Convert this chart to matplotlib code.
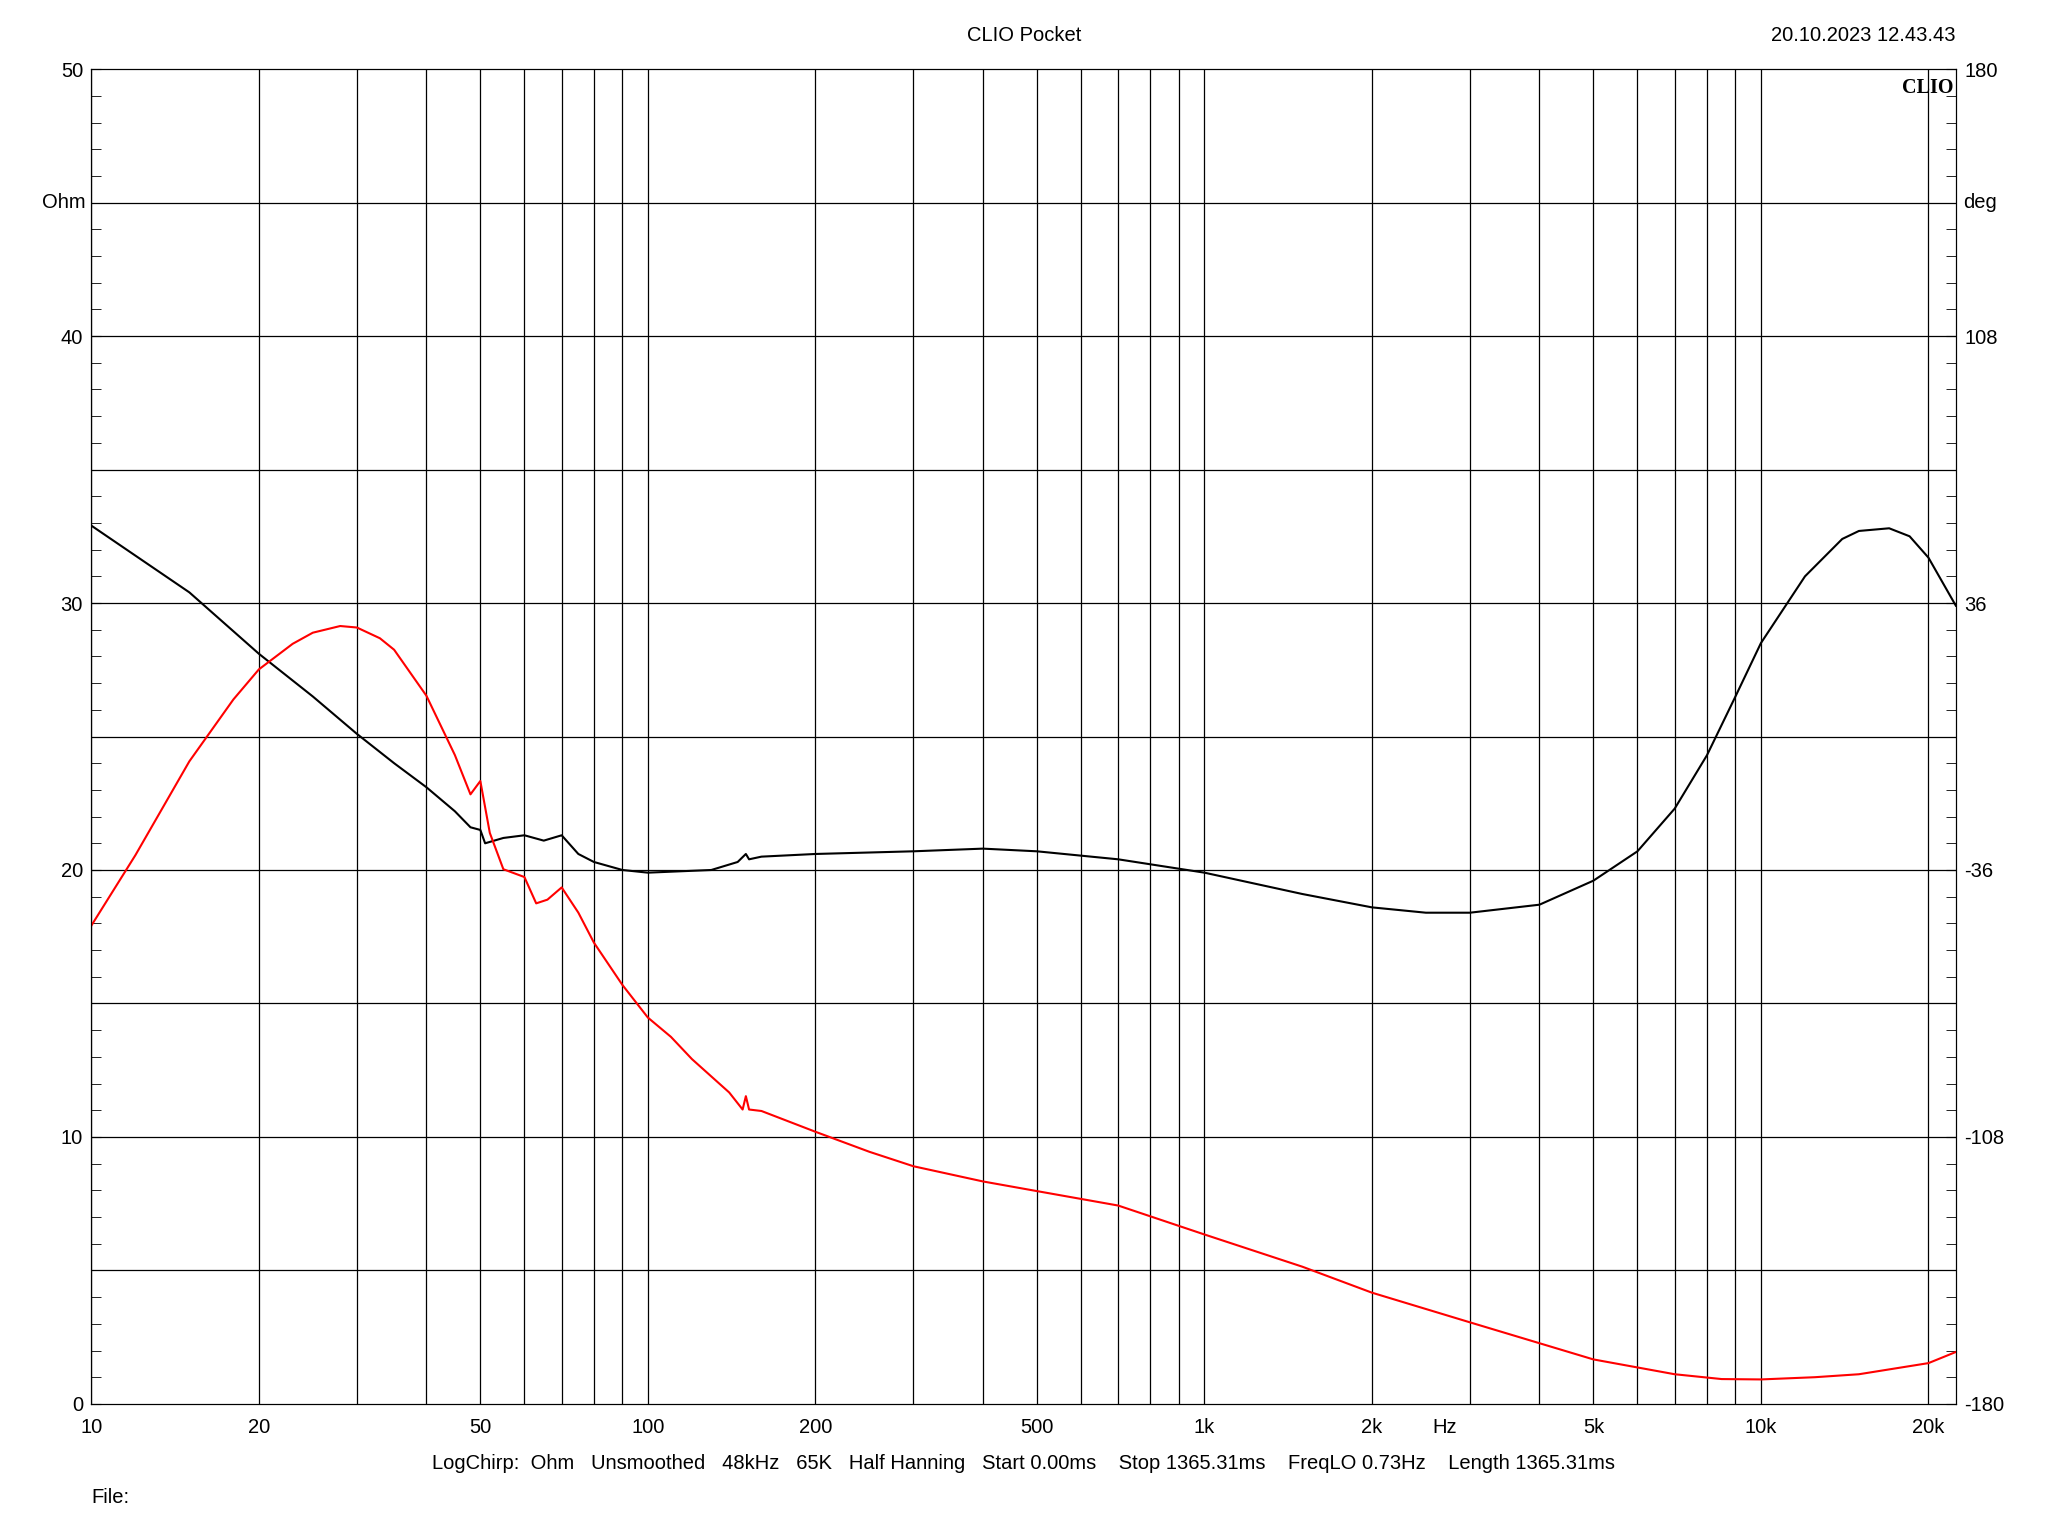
import matplotlib
matplotlib.use("Agg")
import matplotlib.pyplot as plt
import numpy as np
plt.rcParams['font.family'] = ['Liberation Sans', 'DejaVu Sans']

freq_ohm = [10,15,20,25,30,35,40,45,48,50,51,55,60,65,70,75,80,90,100,130,145,150,152,160,200,300,400,500,700,1000,1500,2000,2500,3000,4000,5000,6000,7000,8000,9000,10000,12000,14000,15000,17000,18500,20000,22400]
ohm = [32.9,30.4,28.1,26.5,25.1,24.0,23.1,22.2,21.6,21.5,21.0,21.2,21.3,21.1,21.3,20.6,20.3,20.0,19.9,20.0,20.3,20.6,20.4,20.5,20.6,20.7,20.8,20.7,20.4,19.9,19.1,18.6,18.4,18.4,18.7,19.6,20.7,22.3,24.3,26.5,28.5,31.0,32.4,32.7,32.8,32.5,31.7,29.9]
freq_ph = [10,12,15,18,20,23,25,28,30,33,35,40,45,48,50,52,55,60,63,66,70,75,80,90,100,110,120,140,148,150,152,160,200,250,300,400,500,700,1000,1500,2000,3000,5000,7000,8500,10000,12500,15000,20000,22400]
phase = [-51,-32,-6.7,10,18.1,25,28,29.8,29.4,26.5,23.4,11,-5,-15.6,-12,-26,-35.8,-37.9,-45,-44,-40.7,-47.5,-55.6,-67,-75.8,-81,-87,-96,-100.6,-97,-100.6,-101,-106.6,-112,-115.9,-120,-122.6,-126.5,-134.3,-143,-150,-158,-168,-172,-173.3,-173.4,-172.8,-172,-169,-166]

FS = 14.5
fig = plt.figure(figsize=(20.48,15.36), dpi=100)
ax = fig.add_axes([0.0446,0.086,0.9104,0.869])
ax.set_xscale('log')
ax.set_xlim(10,22400)
ax.set_ylim(0,50)
xt=[10,20,50,100,200,500,1000,2000,2700,5000,10000,20000]
xl=['10','20','50','100','200','500','1k','2k','Hz','5k','10k','20k']
ax.set_xticks(xt); ax.set_xticklabels(xl, fontsize=FS)
ax.set_xticks([], minor=True)
for d in [10,100,1000,10000]:
    for m in range(1,10):
        f=d*m
        if f<=22400: ax.axvline(f,color='black',lw=0.9)
for y in range(5,50,5):
    ax.axhline(y,color='black',lw=0.9)
ax.set_yticks([0,10,20,30,40,50]); ax.set_yticklabels(['0','10','20','30','40','50'],fontsize=FS)
ax.set_yticks(range(0,51), minor=True)
ax.tick_params(axis='y',which='both',length=7,direction='in',pad=6)
ax.tick_params(axis='x',length=0,pad=10)
ax.text(-0.015,0.9,'Ohm',transform=ax.transAxes,ha='center',va='center',fontsize=FS)
ax.plot(freq_ohm,ohm,color='black',lw=1.5)
ax2=ax.twinx()
ax2.set_ylim(-180,180)
ax2.set_yticks([-180,-108,-36,36,108,180]); ax2.set_yticklabels(['-180','-108','-36','36','108','180'],fontsize=FS)
ax2.set_yticks(np.arange(-180,181,7.2),minor=True)
ax2.tick_params(axis='y',which='both',length=7,direction='in',pad=6)
ax2.text(1.004,0.9,'deg',transform=ax.transAxes,ha='left',va='center',fontsize=FS)
ax2.plot(freq_ph,phase,color='red',lw=1.5)
ax.text(0.999,0.993,'CLIO',transform=ax.transAxes,ha='right',va='top',fontsize=FS,fontweight='bold',family='Liberation Serif')
fig.text(0.5,0.977,'CLIO Pocket',ha='center',va='center',fontsize=FS)
fig.text(0.955,0.977,'20.10.2023 12.43.43',ha='right',va='center',fontsize=FS)
fig.text(0.5,0.047,'LogChirp:  Ohm   Unsmoothed   48kHz   65K   Half Hanning   Start 0.00ms    Stop 1365.31ms    FreqLO 0.73Hz    Length 1365.31ms',ha='center',va='center',fontsize=FS)
fig.text(0.0446,0.025,'File:',ha='left',va='center',fontsize=FS)
fig.savefig('out.png',dpi=100)
